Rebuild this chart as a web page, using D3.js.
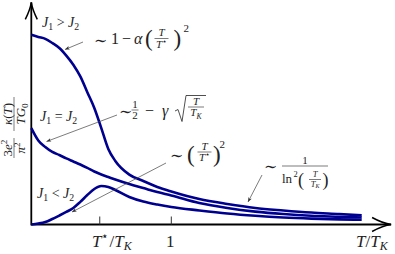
<!DOCTYPE html>
<html>
<head>
<meta charset="utf-8">
<script src="https://d3js.org/d3.v7.min.js"></script>
<style>
  body { margin: 0; background: #fff; }
  text { font-family: "Liberation Serif", "DejaVu Serif", serif; fill: #222; }
</style>
</head>
<body>
<div id="chart"></div>
<script>
// temperature grid, in units of T/T_K
var tGrid = [0, 0.05, 0.1, 0.15, 0.2, 0.25, 0.3, 0.35, 0.4, 0.45, 0.5, 0.55, 0.6,
             0.7, 0.8, 0.9, 1.0, 1.2, 1.4, 1.6, 1.8, 2.0, 2.2, 2.36];
// normalised kappa for the three regimes
var kappaGt = [1.000, 0.988, 0.978, 0.956, 0.930, 0.890, 0.842, 0.780, 0.697, 0.614, 0.508, 0.398, 0.335,
               0.263, 0.229, 0.198, 0.174, 0.134, 0.108, 0.087, 0.074, 0.063, 0.055, 0.048];
var kappaEq = [0.508, 0.443, 0.408, 0.382, 0.366, 0.348, 0.332, 0.316, 0.298, 0.279, 0.263, 0.250, 0.237,
               0.213, 0.192, 0.171, 0.153, 0.113, 0.087, 0.068, 0.055, 0.046, 0.041, 0.037];
var kappaLt = [0.000, 0.005, 0.013, 0.029, 0.047, 0.066, 0.087, 0.119, 0.155, 0.187, 0.203, 0.198, 0.182,
               0.145, 0.121, 0.105, 0.092, 0.074, 0.058, 0.046, 0.037, 0.031, 0.027, 0.025];
var tStar = 0.489;
var tickValues = [tStar, 1];
var tickLabels = ["T^⋆/T_K", "1"];

var width = 395, height = 254;
var svg = d3.select("#chart").append("svg").attr("width", width).attr("height", height);

var x = d3.scaleLinear().domain([0, 2.57]).range([31.3, 391.1]);
var y = d3.scaleLinear().domain([0, 1.17]).range([224.5, 2.4]);

// small TeX-ish text: letters italic, ^c / _c raise or lower one char
function tex(g, px, py, s, size, anchor) {
  var t = g.append("text").attr("x", px).attr("y", py).attr("font-size", size)
    .attr("text-anchor", anchor || "start");
  var off = 0;
  for (var i = 0; i < s.length; i++) {
    var c = s[i], lvl = 0;
    if (c === "^" || c === "_") { lvl = c === "^" ? -1 : 1; i++; c = s[i]; }
    var target = lvl === -1 ? -0.38 * size : lvl === 1 ? 0.2 * size : 0;
    var sp = t.append("tspan").attr("dy", target - off).text(c);
    off = target;
    if (lvl) sp.attr("font-size", size * 0.7);
    if (/[A-Za-z\u03b1-\u03c9]/.test(c)) sp.attr("font-style", "italic");
  }
  return t;
}
function frac(g, cx, yb, num, den, size, w) {
  tex(g, cx, yb - 2.2, num, size, "middle");
  g.append("line").attr("x1", cx - w / 2).attr("x2", cx + w / 2).attr("y1", yb).attr("y2", yb)
    .attr("stroke", "#222").attr("stroke-width", 0.6);
  tex(g, cx, yb + size * 0.85, den, size, "middle");
}
function plain(g, px, py, s, size, italic) {
  var t = g.append("text").attr("x", px).attr("y", py).attr("font-size", size).text(s);
  if (italic) t.attr("font-style", "italic");
  return t;
}

// axes
var axisArrow = function (tx, ty, dir) {
  var p = dir === "right"
    ? "M" + (tx - 19) + "," + (ty - 7) + " Q" + (tx - 8) + "," + (ty - 1) + " " + tx + "," + ty +
      " Q" + (tx - 8) + "," + (ty + 1) + " " + (tx - 19) + "," + (ty + 7)
    : "M" + (tx - 6) + "," + (ty + 17) + " Q" + (tx - 1) + "," + (ty + 7) + " " + tx + "," + ty +
      " Q" + (tx + 1) + "," + (ty + 7) + " " + (tx + 6) + "," + (ty + 17);
  svg.append("path").attr("d", p).attr("fill", "none").attr("stroke", "#000").attr("stroke-width", 1.5);
};
svg.append("line").attr("x1", x(0)).attr("x2", x(2.57)).attr("y1", y(0)).attr("y2", y(0))
  .attr("stroke", "#000").attr("stroke-width", 1.8);
svg.append("line").attr("x1", x(0)).attr("x2", x(0)).attr("y1", y(0) + 0.9).attr("y2", y(1.17))
  .attr("stroke", "#000").attr("stroke-width", 1.8);
axisArrow(x(2.57), y(0), "right");
axisArrow(x(0), y(1.17), "up");

tickValues.forEach(function (v, i) {
  svg.append("line").attr("x1", x(v)).attr("x2", x(v)).attr("y1", y(0) - 8).attr("y2", y(0))
    .attr("stroke", "#333").attr("stroke-width", 1);
  tex(svg, x(v) + (i === 0 ? 12 : -1), 246.5, tickLabels[i], 17, "middle");
});
tex(svg, 356, 246.5, "T/T_K", 17);

// y label, rotated
var yl = svg.append("g").attr("transform", "translate(14,126) rotate(-90)");
frac(yl, -22, 0, "3e^2", "π^2", 13, 20);
frac(yl, 12, 0, "κ(T)", "TG_0", 13, 34);

// curves
var line = d3.line().x(function (d) { return x(d[0]); }).y(function (d) { return y(d[1]); })
  .curve(d3.curveMonotoneX);
[kappaGt, kappaEq, kappaLt].forEach(function (k) {
  svg.append("path").datum(tGrid.map(function (t, i) { return [t, k[i]]; }))
    .attr("d", line).attr("fill", "none").attr("stroke", "#000090").attr("stroke-width", 2.6);
});

// annotation arrows
svg.append("defs").append("marker").attr("id", "tip").attr("viewBox", "-6 -3 7 6")
  .attr("markerUnits", "userSpaceOnUse").attr("markerWidth", 6).attr("markerHeight", 5)
  .attr("refX", 0).attr("refY", 0).attr("orient", "auto")
  .append("path").attr("d", "M0,0 L-5.5,-2.2 L-4.2,0 L-5.5,2.2 Z").attr("fill", "#333");
[[83, 42, 65, 49.5], [117, 115, 46.5, 141.5], [166, 163, 72, 212], [262, 175, 248, 202]].forEach(function (a) {
  svg.append("line").attr("x1", a[0]).attr("y1", a[1]).attr("x2", a[2]).attr("y2", a[3])
    .attr("stroke", "#444").attr("stroke-width", 0.7).attr("marker-end", "url(#tip)");
});

// regime labels
tex(svg, 42, 27, "J_1 > J_2", 14);
tex(svg, 40, 121, "J_1 = J_2", 14);
tex(svg, 37, 198, "J_1 < J_2", 14);

// ~ 1 - alpha (T/T*)^2
plain(svg, 94, 46, "∼", 16);
plain(svg, 111, 43.5, "1", 16);
plain(svg, 122, 44, "−", 16);
plain(svg, 134, 43.5, "α", 16, true);
plain(svg, 145, 45.5, "(", 23);
frac(svg, 161.5, 38.5, "T", "T^⋆", 11, 14);
plain(svg, 173.5, 45.5, ")", 23);
plain(svg, 183.5, 32, "2", 11);

// ~ 1/2 - gamma sqrt(T/T_K)
plain(svg, 119, 117, "∼", 16);
frac(svg, 135, 110, "1", "2", 11, 7);
plain(svg, 145, 115.5, "−", 16);
plain(svg, 162, 115.5, "γ", 16, true);
svg.append("path").attr("d", "M175,111 L178,109.5 L182,121.5 L186,95.5 L206,95.5")
  .attr("fill", "none").attr("stroke", "#222").attr("stroke-width", 0.8);
frac(svg, 196, 107, "T", "T_K", 11, 16);

// ~ (T/T*)^2
plain(svg, 170, 161, "∼", 16);
plain(svg, 187, 161.5, "(", 23);
frac(svg, 204.5, 152, "T", "T^⋆", 11, 14);
plain(svg, 213, 161.5, ")", 23);
plain(svg, 219.5, 148, "2", 11);

// ~ 1 / ln^2(T/T_K)
plain(svg, 264, 172, "∼", 16);
frac(svg, 305, 166, "1", "", 11, 46);
plain(svg, 282, 183, "ln", 13);
plain(svg, 293.5, 177, "2", 8.5);
plain(svg, 298, 185.5, "(", 18);
frac(svg, 315, 179.5, "T", "T_K", 8.5, 12);
plain(svg, 322.5, 185.5, ")", 18);
</script>
</body>
</html>
